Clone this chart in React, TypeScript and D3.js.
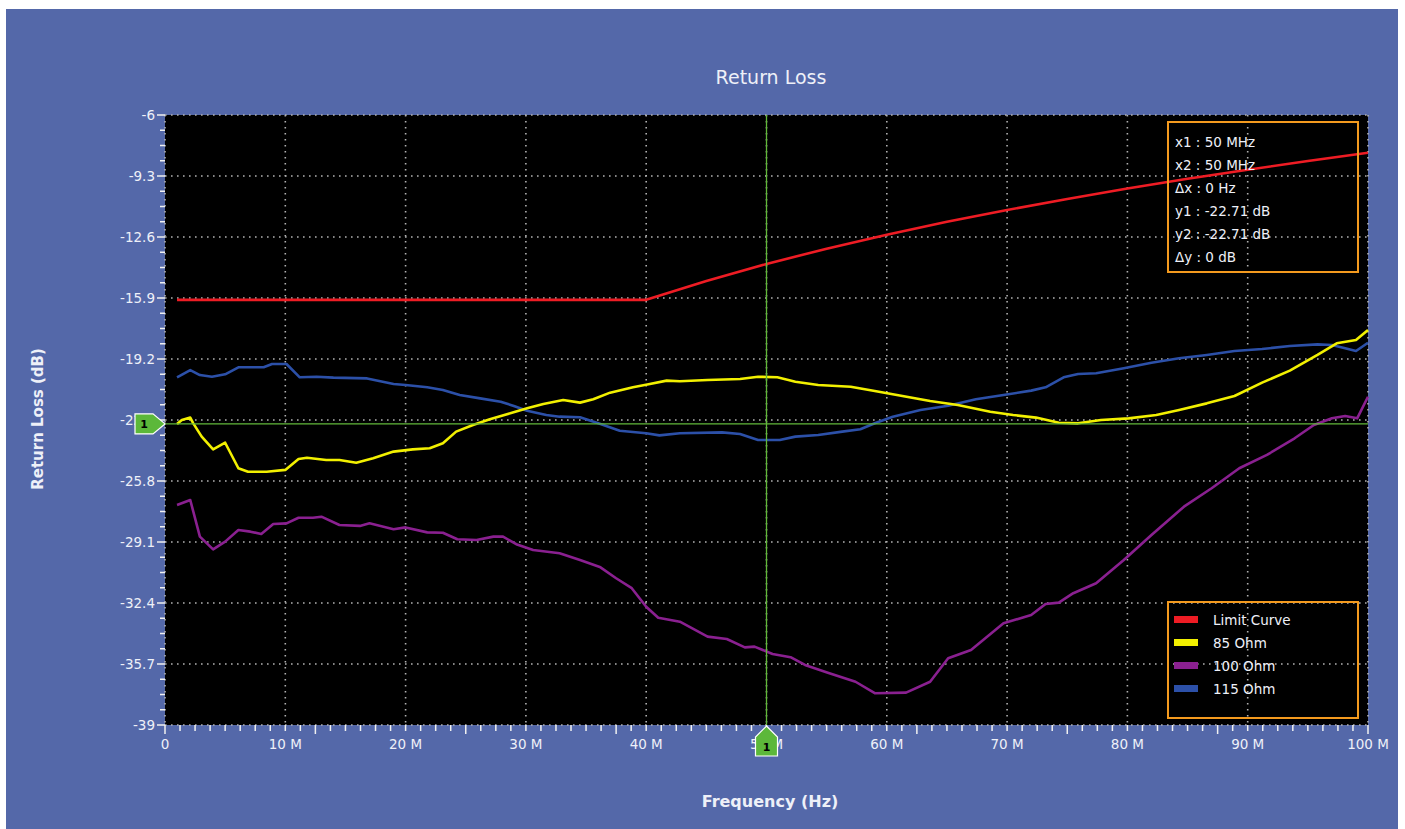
import React from "react";
import * as d3 from "d3";

const W = 1405;
const H = 829;

// ---- data ----
const limitFreq = [1, 40, 45, 50, 55, 60, 65, 70, 75, 80, 85, 90, 95, 100];
const limitVals = [-16, -16, -14.98, -14.06, -13.23, -12.48, -11.78, -11.14, -10.54, -9.98, -9.45, -8.96, -8.49, -8.04];

const ohm85Freq = [1.0, 1.4, 2.1, 2.35, 3.05, 4.0, 5.0, 6.1, 6.9, 8.45, 10.0, 11.1, 11.8, 13.4, 14.5, 15.9, 17.3, 19.0, 20.6, 22.0, 23.1, 24.2, 25.6, 27.0, 28.7, 30.1, 31.45, 33.1, 34.5, 35.6, 37.0, 38.9, 40.3, 41.7, 42.8, 45.1, 47.8, 49.3, 50.9, 52.4, 54.3, 57.0, 59.0, 61.3, 63.6, 65.9, 68.6, 70.5, 72.4, 74.3, 75.9, 77.8, 80.1, 82.4, 84.3, 86.6, 88.9, 91.2, 93.5, 95.8, 97.4, 99.0, 100];
const ohm85Vals = [-22.72, -22.5, -22.37, -22.68, -23.4, -24.09, -23.73, -25.11, -25.3, -25.3, -25.2, -24.61, -24.54, -24.66, -24.66, -24.81, -24.57, -24.21, -24.09, -24.03, -23.76, -23.13, -22.77, -22.46, -22.14, -21.87, -21.63, -21.42, -21.56, -21.38, -21.02, -20.73, -20.55, -20.37, -20.4, -20.34, -20.28, -20.16, -20.19, -20.43, -20.61, -20.7, -20.93, -21.2, -21.47, -21.69, -22.05, -22.23, -22.37, -22.65, -22.68, -22.5, -22.41, -22.23, -21.96, -21.6, -21.2, -20.48, -19.83, -18.98, -18.35, -18.17, -17.63];

const ohm100Freq = [1.0, 2.1, 2.9, 4.0, 5.0, 6.1, 7.1, 8.0, 9.0, 10.1, 11.1, 12.3, 13.0, 14.5, 16.2, 17.0, 19.0, 20.0, 21.8, 23.1, 24.3, 25.9, 27.3, 28.1, 29.2, 30.6, 32.8, 34.5, 36.2, 37.5, 38.8, 40.0, 41.0, 42.8, 45.1, 46.7, 48.2, 49.0, 50.5, 52.0, 53.2, 55.1, 57.4, 59.0, 61.6, 63.6, 65.1, 67.0, 69.7, 72.0, 73.2, 74.3, 75.5, 77.4, 79.7, 82.0, 84.7, 87.0, 89.3, 91.6, 93.9, 95.5, 97.0, 98.1, 99.1, 100];
const ohm100Vals = [-27.1, -26.83, -28.81, -29.5, -29.08, -28.45, -28.54, -28.67, -28.13, -28.09, -27.79, -27.79, -27.73, -28.18, -28.23, -28.09, -28.41, -28.31, -28.58, -28.6, -28.95, -28.99, -28.81, -28.81, -29.22, -29.53, -29.71, -30.07, -30.47, -31.06, -31.6, -32.6, -33.2, -33.41, -34.22, -34.35, -34.8, -34.76, -35.16, -35.33, -35.75, -36.17, -36.66, -37.28, -37.25, -36.66, -35.39, -34.94, -33.5, -33.05, -32.45, -32.38, -31.87, -31.33, -30.07, -28.72, -27.19, -26.19, -25.11, -24.39, -23.49, -22.77, -22.41, -22.28, -22.41, -21.24];

const ohm115Freq = [1.0, 2.1, 2.9, 3.9, 5.0, 6.1, 8.2, 8.9, 10.1, 11.2, 12.6, 14.0, 16.8, 19.0, 20.0, 21.8, 23.1, 24.5, 26.2, 27.9, 29.0, 30.1, 31.7, 32.8, 34.5, 36.2, 37.8, 40.0, 41.1, 42.8, 46.3, 47.8, 49.3, 51.1, 52.4, 54.3, 56.3, 57.8, 59.0, 60.5, 62.8, 65.1, 67.4, 69.7, 72.0, 73.2, 74.7, 75.9, 77.4, 79.7, 82.0, 84.3, 86.6, 88.9, 91.2, 93.5, 95.8, 97.0, 98.1, 99.0, 100];
const ohm115Vals = [-20.19, -19.8, -20.07, -20.16, -20.03, -19.65, -19.65, -19.47, -19.47, -20.19, -20.16, -20.21, -20.25, -20.55, -20.61, -20.73, -20.88, -21.15, -21.33, -21.51, -21.74, -22.0, -22.23, -22.32, -22.35, -22.72, -23.08, -23.22, -23.33, -23.22, -23.17, -23.26, -23.58, -23.58, -23.4, -23.31, -23.13, -23.0, -22.68, -22.32, -21.96, -21.73, -21.38, -21.15, -20.91, -20.73, -20.19, -20.01, -19.97, -19.7, -19.4, -19.16, -18.98, -18.77, -18.66, -18.5, -18.41, -18.44, -18.62, -18.77, -18.32];

const seriesNames = ["Limit Curve", "85 Ohm", "100 Ohm", "115 Ohm"];
const seriesColors = ["#ee1c24", "#f2f000", "#8a2090", "#2c50a8"];

const yTickValues = [-6, -9.3, -12.6, -15.9, -19.2, -22.5, -25.8, -29.1, -32.4, -35.7, -39];
const yTickLabels = ["-6", "-9.3", "-12.6", "-15.9", "-19.2", "-22.5", "-25.8", "-29.1", "-32.4", "-35.7", "-39"];
const xTickValues = [0, 10, 20, 30, 40, 50, 60, 70, 80, 90, 100];
const xTickLabels = ["0", "10 M", "20 M", "30 M", "40 M", "50 M", "60 M", "70 M", "80 M", "90 M", "100 M"];

const markerX = 50;
const markerY = -22.71;
const infoLines = ["x1 : 50 MHz", "x2 : 50 MHz", "\u0394x : 0 Hz", "y1 : -22.71 dB", "y2 : -22.71 dB", "\u0394y : 0 dB"];

// ---- layout ----
const plot = { left: 165, top: 115, right: 1368, bottom: 725 };
const FONT = "'DejaVu Sans', Verdana, sans-serif";
const TXT = "#eef0f8";
const BG = "#5468a9";

export default function App() {
  const x = d3.scaleLinear().domain([0, 100]).range([plot.left, plot.right]);
  const y = d3.scaleLinear().domain([-6, -39]).range([plot.top, plot.bottom]);

  const series = [
    { f: limitFreq, v: limitVals },
    { f: ohm85Freq, v: ohm85Vals },
    { f: ohm100Freq, v: ohm100Vals },
    { f: ohm115Freq, v: ohm115Vals },
  ];
  const line = d3
    .line<[number, number]>()
    .x((d) => x(d[0]))
    .y((d) => y(d[1]));

  const yMinor = d3.range(0, 41).map((i) => -6 - i * 0.825);
  const xMinor = d3.range(0, 81).map((i) => i * 1.25);

  const mx = x(markerX);
  const my = y(markerY);

  return (
    <div style={{ position: "absolute", left: 0, top: 0, width: W, height: H }}>
      <svg width={W} height={H} style={{ display: "block" }}>
        <rect x={0} y={0} width={W} height={H} fill="#ffffff" />
        <rect x={6} y={9} width={1392} height={H - 9} fill={BG} />
        <rect
          x={plot.left}
          y={plot.top}
          width={plot.right - plot.left}
          height={plot.bottom - plot.top}
          fill="#000000"
        />
        {/* grid */}
        <g stroke="#b0b0b0" strokeWidth={1.6} strokeDasharray="1.6 4.4">
          {xTickValues.map((v, i) => (
            <line key={"gx" + i} x1={x(v)} x2={x(v)} y1={plot.top} y2={plot.bottom} />
          ))}
          {yTickValues.map((v, i) => (
            <line key={"gy" + i} x1={plot.left} x2={plot.right} y1={y(v)} y2={y(v)} />
          ))}
        </g>
        {/* y ticks */}
        <g stroke="#f0f0f0" strokeWidth={1.5}>
          {yMinor.map((v, i) => (
            <line key={"ym" + i} x1={plot.left - (i % 4 === 0 ? 8 : 5)} x2={plot.left} y1={y(v)} y2={y(v)} />
          ))}
          {xMinor.map((v, i) => (
            <line key={"xm" + i} x1={x(v)} x2={x(v)} y1={plot.bottom} y2={plot.bottom + (i % 10 === 0 ? 9 : 6)} />
          ))}
        </g>
        <g fill={TXT} fontFamily={FONT} fontSize={13.5}>
          {yTickValues.map((v, i) => (
            <text key={"yl" + i} x={plot.left - 10} y={y(v)} dy="0.36em" textAnchor="end">
              {yTickLabels[i]}
            </text>
          ))}
          {xTickValues.map((v, i) => (
            <text key={"xl" + i} x={x(v)} y={749} textAnchor="middle">
              {xTickLabels[i]}
            </text>
          ))}
        </g>
        {/* titles */}
        <text x={771} y={84} textAnchor="middle" fill={TXT} fontFamily={FONT} fontSize={19}>
          Return Loss
        </text>
        <text x={770} y={807} textAnchor="middle" fill={TXT} fontFamily={FONT} fontSize={16} fontWeight="bold">
          Frequency (Hz)
        </text>
        <text
          transform={`translate(43,419) rotate(-90)`}
          textAnchor="middle"
          fill={TXT}
          fontFamily={FONT}
          fontSize={15}
          fontWeight="bold"
        >
          Return Loss (dB)
        </text>
        {/* series */}
        <g fill="none" strokeWidth={2.6} strokeLinejoin="round">
          {[3, 1, 2, 0].map((si) => (
            <path
              key={"s" + si}
              d={line(series[si].f.map((f, k) => [f, series[si].v[k]]) as [number, number][]) || ""}
              stroke={seriesColors[si]}
            />
          ))}
        </g>
        {/* marker lines */}
        <line x1={plot.left} x2={plot.right} y1={my} y2={my} stroke="#62b83a" strokeWidth={1.3} />
        <line x1={mx} x2={mx} y1={plot.top} y2={plot.bottom} stroke="#62b83a" strokeWidth={1.3} />
        {/* left marker flag */}
        <path
          d={`M${plot.left},${my} L${plot.left - 12},${my - 10} L${plot.left - 30},${my - 10} L${plot.left - 30},${my + 10} L${plot.left - 12},${my + 10} Z`}
          fill="#5cb83a"
          stroke="#ffffff"
          strokeWidth={1.2}
        />
        <text x={plot.left - 21} y={my + 4} textAnchor="middle" fontFamily={FONT} fontSize={11} fontWeight="bold" fill="#000">
          1
        </text>
        {/* bottom marker flag */}
        <path
          d={`M${mx},${plot.bottom + 1} L${mx + 11},${plot.bottom + 12} L${mx + 11},${plot.bottom + 31} L${mx - 11},${plot.bottom + 31} L${mx - 11},${plot.bottom + 12} Z`}
          fill="#5cb83a"
          stroke="#ffffff"
          strokeWidth={1.2}
        />
        <text x={mx} y={plot.bottom + 26} textAnchor="middle" fontFamily={FONT} fontSize={11} fontWeight="bold" fill="#000">
          1
        </text>
        {/* info box */}
        <rect x={1168} y={122} width={190} height={150} fill="none" stroke="#f39a1e" strokeWidth={2} />
        <g fill={TXT} fontFamily={FONT} fontSize={13.5}>
          {infoLines.map((t, i) => (
            <text key={"il" + i} x={1175} y={147 + i * 23}>
              {t}
            </text>
          ))}
        </g>
        {/* legend */}
        <rect x={1168} y={602} width={190} height={116} fill="none" stroke="#f39a1e" strokeWidth={2} />
        {seriesNames.map((n, i) => (
          <g key={"lg" + i}>
            <rect x={1174} y={616 + i * 23} width={24} height={7} fill={seriesColors[i]} />
            <text x={1213} y={625 + i * 23} fill={TXT} fontFamily={FONT} fontSize={13.5}>
              {n}
            </text>
          </g>
        ))}
      </svg>
    </div>
  );
}
